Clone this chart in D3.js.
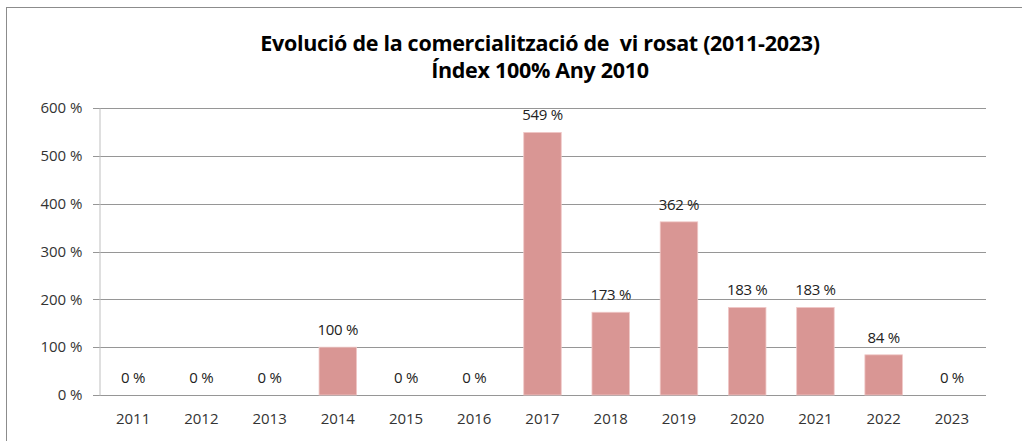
<!DOCTYPE html>
<html>
<head>
<meta charset="utf-8">
<script src="https://cdn.jsdelivr.net/npm/d3@7"></script>
<style>
  body { margin: 0; background: #fff; }
  svg { display: block; font-family: "Open Sans", "Noto Sans", sans-serif; }
</style>
</head>
<body>
<div id="chart"></div>
<script>
// chart data
const years = ['2011', '2012', '2013', '2014', '2015', '2016', '2017', '2018', '2019', '2020', '2021', '2022', '2023'];
const index_values = [0, 0, 0, 100, 0, 0, 549, 173, 362, 183, 183, 84, 0];
const y_ticks = [0, 100, 200, 300, 400, 500, 600];
const title_lines = ['Evolució de la comercialització de  vi rosat (2011-2023)', 'Índex 100% Any 2010'];

const width = 1022, height = 441;
const margin = { top: 108, right: 36, bottom: 46, left: 99 };

const svg = d3.select('#chart').append('svg')
  .attr('width', width)
  .attr('height', height);

// outer frame
svg.append('rect')
  .attr('x', 6.5).attr('y', 7.5)
  .attr('width', width + 10).attr('height', height + 10)
  .attr('fill', 'none')
  .attr('stroke', '#8c8c8c')
  .attr('stroke-width', 1);

// title
svg.append('text')
  .attr('x', 540).attr('y', 51)
  .attr('text-anchor', 'middle')
  .style('font-size', '21.5px')
  .style('font-weight', 'bold')
  .style('letter-spacing', '-0.3px')
  .attr('fill', '#000')
  .selectAll('tspan')
  .data(title_lines)
  .enter().append('tspan')
  .attr('x', 540)
  .attr('dy', (d, i) => i === 0 ? 0 : 27)
  .style('white-space', 'pre')
  .text(d => d);

const x = d3.scaleBand()
  .domain(years)
  .range([margin.left, width - margin.right])
  .paddingInner(0.45)
  .paddingOuter(0.225);

const y = d3.scaleLinear()
  .domain([0, 600])
  .range([height - margin.bottom, margin.top]);

// gridlines
svg.append('g')
  .selectAll('line')
  .data(y_ticks)
  .enter().append('line')
  .attr('x1', margin.left - 6)
  .attr('x2', width - margin.right)
  .attr('y1', d => Math.round(y(d)) + 0.5)
  .attr('y2', d => Math.round(y(d)) + 0.5)
  .attr('stroke', '#969696')
  .attr('stroke-width', 1);

// y axis
const yAxis = svg.append('g')
  .attr('transform', `translate(${margin.left + 0.5},0)`)
  .call(d3.axisLeft(y).tickValues(y_ticks).tickSize(0).tickPadding(17).tickFormat(d => d + ' %'));
yAxis.select('.domain').attr('stroke', '#bfbfbf');
yAxis.selectAll('text')
  .attr('fill', '#333')
  .style('font-size', '15px')
  .style('font-family', '"Open Sans", "Noto Sans", sans-serif');

// bars
svg.append('g')
  .selectAll('rect')
  .data(index_values)
  .enter().append('rect')
  .attr('x', (d, i) => x(years[i]))
  .attr('y', d => y(d))
  .attr('width', x.bandwidth())
  .attr('height', d => y(0) - y(d))
  .attr('fill', '#d99694')
  .attr('stroke', '#f0c8c7')
  .attr('stroke-width', 0.8);

// value labels
svg.append('g')
  .selectAll('text')
  .data(index_values)
  .enter().append('text')
  .attr('x', (d, i) => x(years[i]) + x.bandwidth() / 2)
  .attr('y', d => y(d) - 12)
  .attr('text-anchor', 'middle')
  .attr('fill', '#222')
  .style('font-size', '15px')
  .style('letter-spacing', '-0.3px')
  .text(d => d + ' %');

// x labels
svg.append('g')
  .selectAll('text')
  .data(years)
  .enter().append('text')
  .attr('x', d => x(d) + x.bandwidth() / 2)
  .attr('y', 424)
  .attr('text-anchor', 'middle')
  .attr('fill', '#333')
  .style('font-size', '15px')
  .text(d => d);
</script>
</body>
</html>
